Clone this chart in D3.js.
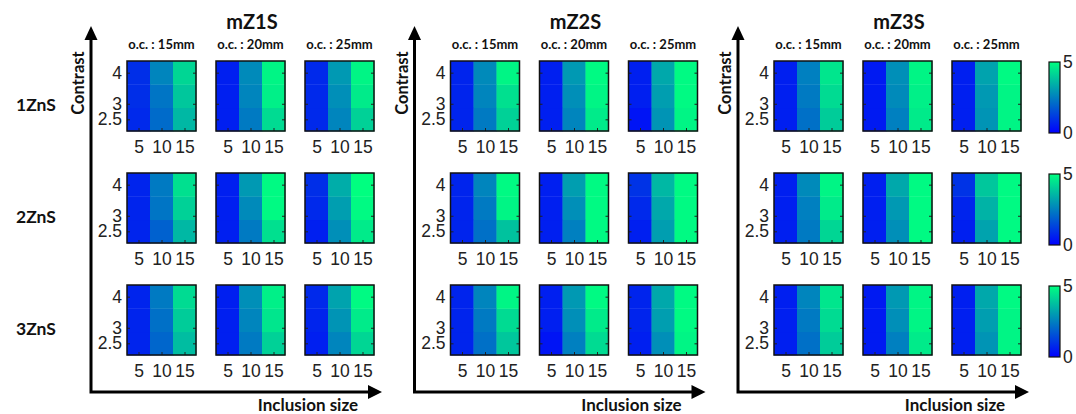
<!DOCTYPE html>
<html>
<head>
<meta charset="utf-8">
<script src="https://cdn.jsdelivr.net/npm/d3@7"></script>
<style>
body{margin:0;background:#fff;}
.lbl{font-family:Lato,"Open Sans",sans-serif;font-weight:bold;fill:#111;}
.tick text{font-family:"Liberation Sans",Arial,sans-serif;font-size:17.5px;fill:#222;}
</style>
</head>
<body>
<div id="chart"></div>
<script>
const width = 1076;
const height = 414;

const groups = ["mZ1S","mZ2S","mZ3S"];
const rows = ["1ZnS","2ZnS","3ZnS"];
const spacings = ["o.c. : 15mm","o.c. : 20mm","o.c. : 25mm"];
const inclusionSizes = [5,10,15];
const contrasts = [2.5,3,4];
const colorTicks = [0,5];

// [row][spacing][contrast 2.5,3,4][inclusion 5,10,15]
const mZ1S = [
 [[[0.8,2.1,3.6],[0.9,2.3,3.9],[0.9,2.6,4.2]],
  [[0.6,2.4,4.3],[0.6,2.6,4.7],[0.6,2.7,4.8]],
  [[0.8,2.6,4.1],[0.8,2.8,4.6],[0.8,3.0,4.8]]],
 [[[0.7,1.9,3.6],[0.7,2.3,4.1],[0.7,2.4,4.4]],
  [[0.6,2.4,4.4],[0.6,2.7,4.9],[0.6,3.0,4.9]],
  [[0.6,2.8,4.6],[0.8,3.1,4.9],[0.9,3.4,5.0]]],
 [[[0.7,2.0,3.7],[0.7,2.2,4.0],[0.7,2.4,4.3]],
  [[0.6,2.4,4.1],[0.6,2.6,4.5],[0.6,2.8,4.7]],
  [[0.6,2.6,4.2],[0.7,2.9,4.6],[0.8,3.2,4.9]]]
];
const mZ2S = [
 [[[0.7,2.4,4.1],[0.7,2.6,4.4],[0.7,2.7,4.8]],
  [[0.6,2.6,4.6],[0.6,2.8,4.8],[0.6,3.0,4.9]],
  [[0.4,2.9,4.8],[0.6,3.1,4.9],[0.6,3.3,4.9]]],
 [[[0.7,2.2,3.8],[0.7,2.4,4.8],[0.7,2.6,4.9]],
  [[0.6,2.5,4.9],[0.6,2.8,4.9],[0.6,3.1,4.9]],
  [[0.6,3.1,4.9],[0.8,3.3,4.9],[1.0,3.6,4.9]]],
 [[[0.7,2.2,3.9],[0.7,2.4,4.3],[0.7,2.6,4.8]],
  [[0.4,2.5,4.3],[0.6,2.8,4.6],[0.6,3.0,4.9]],
  [[0.6,2.8,4.8],[0.7,3.1,4.9],[0.7,3.3,4.9]]]
];
const mZ3S = [
 [[[0.6,2.2,4.0],[0.6,2.4,4.3],[0.6,2.5,4.5]],
  [[0.5,2.5,4.6],[0.5,2.7,4.7],[0.5,2.8,4.8]],
  [[0.6,2.9,4.8],[0.6,3.0,4.8],[0.6,3.2,4.9]]],
 [[[0.6,2.4,4.2],[0.6,2.5,4.6],[0.6,2.7,4.8]],
  [[0.6,2.8,4.9],[0.6,3.0,4.9],[0.6,3.3,4.9]],
  [[0.6,3.2,4.9],[0.7,3.5,4.9],[1.0,3.9,4.9]]],
 [[[0.6,2.2,4.0],[0.6,2.4,4.3],[0.6,2.6,4.5]],
  [[0.5,2.5,4.6],[0.5,2.8,4.8],[0.5,3.0,4.8]],
  [[0.6,2.9,4.8],[0.6,3.1,4.8],[0.6,3.3,4.9]]]
];
const groupValues = [mZ1S,mZ2S,mZ3S];

const svg = d3.select("#chart")
.append("svg")
.attr("width",width)
.attr("height",height);

// MATLAB "winter" colormap
const color = d3.scaleLinear()
.domain([0,5])
.range(["rgb(0,0,255)","rgb(0,255,128)"]);

////////////////////////////////////////////////
//// LAYOUT
////////////////////////////////////////////////

const boxW = 69, boxH = 70;
const groupX = d3.scaleBand().domain(groups).range([127,127+3*323.5]);
const colX = d3.scaleBand().domain(spacings).range([0,3*89]);
const rowY = d3.scaleBand().domain(rows).range([61,61+3*112]);
const axisY = 392;

// panel scales (imagesc style: linear tick axis, equal cells)
const x = d3.scaleLinear().domain([2.5,17.5]).range([0,boxW]);
const y = d3.scaleLinear().domain([2.125,4.375]).range([boxH,0]);
const xCell = d3.scaleBand().domain(inclusionSizes).range([0,boxW]);
const yCell = d3.scaleBand().domain(contrasts).range([boxH,0]);

////////////////////////////////////////////////
//// HEATMAPS
////////////////////////////////////////////////

groups.forEach((g,gi)=>{
rows.forEach((r,ri)=>{
spacings.forEach((s,si)=>{

const vals = groupValues[gi][ri][si];
const cells = [];
contrasts.forEach((c,ci)=>{
inclusionSizes.forEach((inc,ii)=>{
cells.push({c:c,inc:inc,v:vals[ci][ii]});
});
});

const p = svg.append("g")
.attr("transform",`translate(${groupX(g)+colX(s)},${rowY(r)})`);

p.selectAll("rect.cell")
.data(cells)
.enter()
.append("rect")
.attr("class","cell")
.attr("x",d=>xCell(d.inc))
.attr("y",d=>yCell(d.c))
.attr("width",xCell.bandwidth()+0.4)
.attr("height",yCell.bandwidth()+0.4)
.attr("fill",d=>color(d.v));

// X AXIS
p.append("g")
.attr("transform",`translate(0,${boxH})`)
.call(d3.axisBottom(x).tickValues(inclusionSizes).tickFormat(d=>d).tickSize(-3).tickPadding(10))
.call(a=>a.select(".domain").remove())
.selectAll("line").attr("stroke","#222");

// Y AXIS (labels only on the first panel of a row)
p.append("g")
.call(d3.axisLeft(y).tickValues(contrasts).tickSize(-3).tickPadding(5)
  .tickFormat(d=>si===0 ? d : ""))
.call(a=>a.select(".domain").remove())
.selectAll("line").attr("stroke","#222");

p.append("g")
.attr("transform",`translate(${boxW},0)`)
.call(d3.axisRight(y).tickValues(contrasts).tickSize(-3).tickFormat(()=>""))
.call(a=>a.select(".domain").remove())
.selectAll("line").attr("stroke","#222");

p.append("rect")
.attr("width",boxW)
.attr("height",boxH)
.attr("fill","none")
.attr("stroke","#111")
.attr("stroke-width",1.5);

});
});

////////////////////////////////////////////////
//// GROUP ARROWS + LABELS
////////////////////////////////////////////////

const gx = groupX(g);
const ax = gx-36;
const tipX = gx+255;
const tipY = 26;

svg.append("path")
.attr("d",`M${ax},${axisY} V${tipY+12} M${ax-1.5},${axisY} H${tipX-12}`)
.attr("stroke","#000")
.attr("stroke-width",3)
.attr("fill","none");

svg.append("path")
.attr("d",`M${ax},${tipY} L${ax-6.5},${tipY+14} L${ax+6.5},${tipY+14} Z`)
.attr("fill","#000");

svg.append("path")
.attr("d",`M${tipX},${axisY} L${tipX-14},${axisY-7} L${tipX-14},${axisY+7} Z`)
.attr("fill","#000");

svg.append("text")
.attr("class","lbl")
.attr("x",gx+125)
.attr("y",29)
.attr("text-anchor","middle")
.style("font-size","20px")
.text(g);

svg.selectAll(null)
.data(spacings)
.enter()
.append("text")
.attr("class","lbl")
.attr("x",d=>gx+colX(d)+boxW/2)
.attr("y",49)
.attr("text-anchor","middle")
.style("font-size","13px")
.text(d=>d);

svg.append("text")
.attr("class","lbl")
.attr("transform",`translate(${ax-13},83) rotate(-90)`)
.attr("text-anchor","middle")
.attr("dominant-baseline","central")
.style("font-size","16.5px")
.text("Contrast");

svg.append("text")
.attr("class","lbl")
.attr("x",tipX-74)
.attr("y",411)
.attr("text-anchor","middle")
.style("font-size","17px")
.text("Inclusion size");

});

////////////////////////////////////////////////
//// ROW LABELS + COLORBARS
////////////////////////////////////////////////

svg.selectAll(null)
.data(rows)
.enter()
.append("text")
.attr("class","lbl")
.attr("x",36)
.attr("y",d=>rowY(d)+43)
.attr("text-anchor","middle")
.attr("dominant-baseline","central")
.style("font-size","17.5px")
.text(d=>d);

const grad = svg.append("defs")
.append("linearGradient")
.attr("id","winter")
.attr("x1",0).attr("y1",1).attr("x2",0).attr("y2",0);
grad.selectAll("stop")
.data(colorTicks)
.enter()
.append("stop")
.attr("offset",(d,i)=>i)
.attr("stop-color",d=>color(d));

const cbH = 71;
const cbScale = d3.scaleLinear().domain(d3.extent(colorTicks)).range([cbH,0]);

rows.forEach(r=>{
const cb = svg.append("g")
.attr("transform",`translate(1049,${rowY(r)+1})`);
cb.append("rect")
.attr("width",11)
.attr("height",cbH)
.attr("fill","url(#winter)")
.attr("stroke","#111")
.attr("stroke-width",1.2);
cb.append("g")
.attr("transform","translate(11,0)")
.call(d3.axisRight(cbScale).tickValues(colorTicks).tickFormat(d=>d).tickSize(0).tickPadding(3))
.call(a=>a.select(".domain").remove());
});

</script>
</body>
</html>
